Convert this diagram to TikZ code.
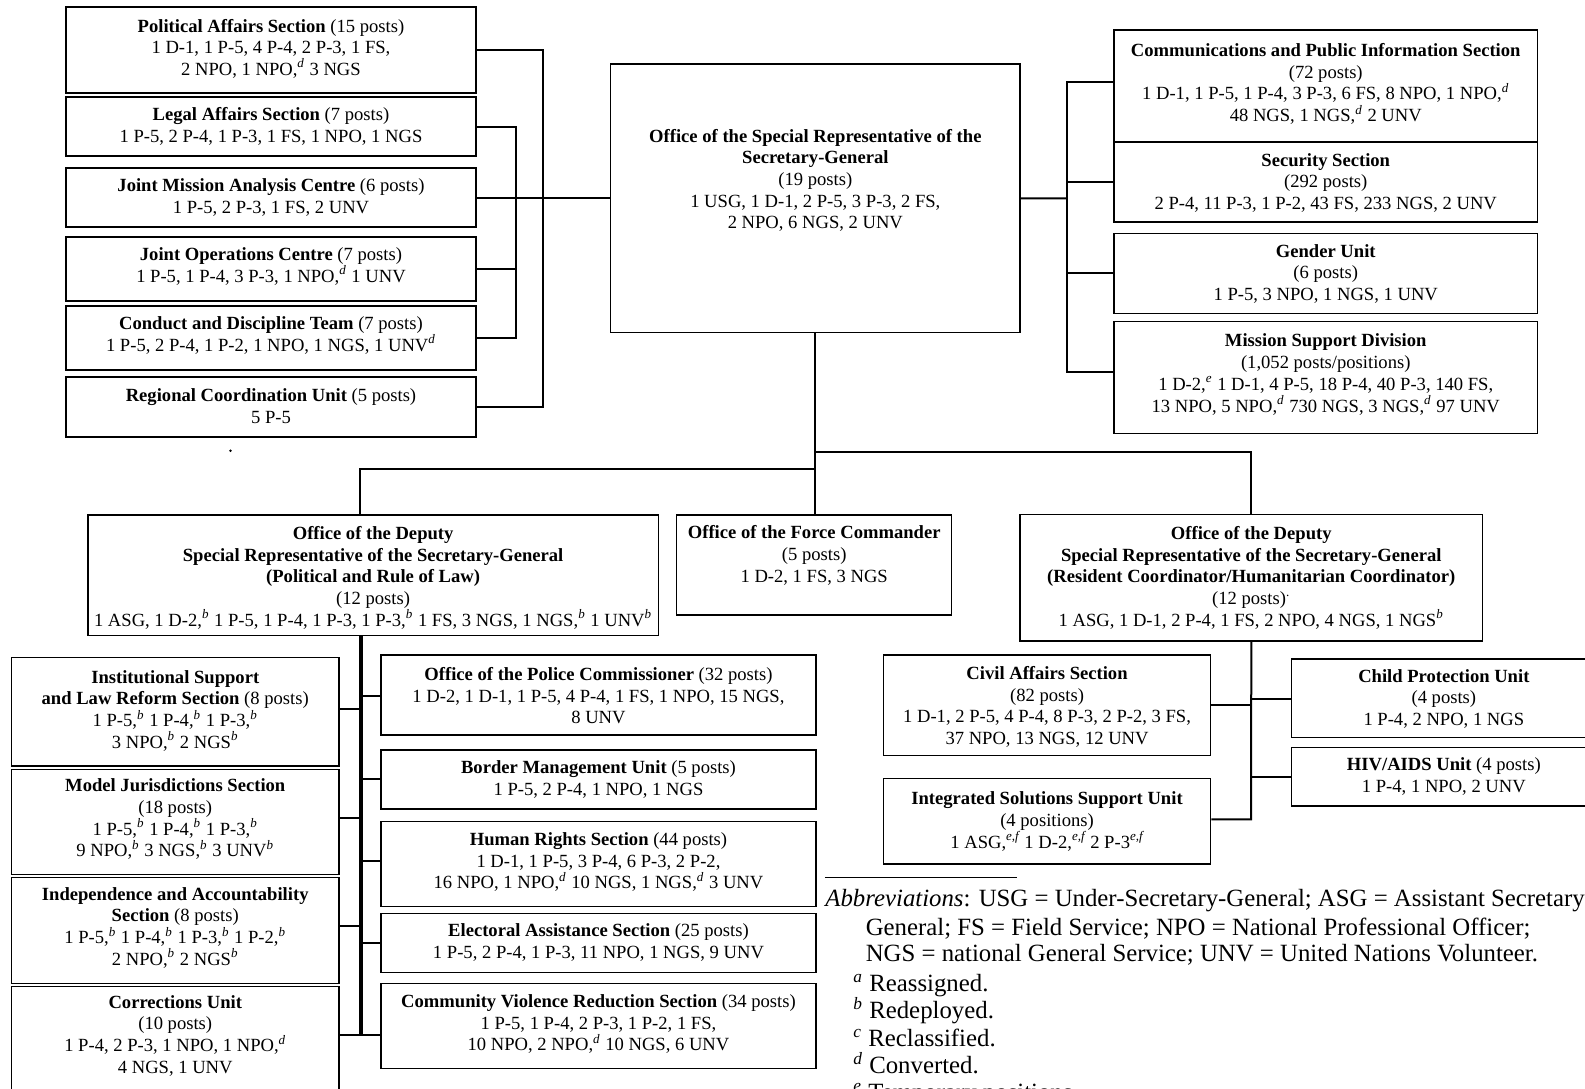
\documentclass[tikz,border=0pt]{standalone}
\usepackage{fontspec}
\setmainfont{Liberation Serif}
\usetikzlibrary{fit}
\newcommand\fn[1]{\textsuperscript{\itshape #1}}
\newcommand\orgbox[7]{%
  \node[box, fit={(#2,#3) (#4,#5)}] (#1) {};
  \node[txt] (#1-t) at ({(#2+#4)/2},#6) {#7};}
\begin{document}
\begin{tikzpicture}[x=0.5pt,y=-0.5pt,
  box/.style={draw, line width=0.75pt, inner sep=0pt},
  txt/.style={align=center, inner sep=0pt, font=\fontsize{9.3}{10.85}\selectfont},
  conn/.style={line width=1pt},
  spine/.style={line width=1.7pt},
  abbr/.style={anchor=base west, inner sep=0pt, font=\fontsize{12.4}{13.7}\selectfont}]
\useasboundingbox (0,0) rectangle (1585,1088);

% ---------- top-left column
\orgbox{pa}{66}{7}{476}{93}{48.7}{\textbf{Political Affairs Section} (15 posts)\\1 D-1, 1 P-5, 4 P-4, 2 P-3, 1 FS,\\2 NPO, 1 NPO,\fn{d} 3 NGS}
\orgbox{legal}{66}{97}{476}{156}{126.2}{\textbf{Legal Affairs Section} (7 posts)\\1 P-5, 2 P-4, 1 P-3, 1 FS, 1 NPO, 1 NGS}
\orgbox{jmac}{66}{168}{476}{227}{197.2}{\textbf{Joint Mission Analysis Centre} (6 posts)\\1 P-5, 2 P-3, 1 FS, 2 UNV}
\orgbox{joc}{66}{237}{476}{301}{266.7}{\textbf{Joint Operations Centre} (7 posts)\\1 P-5, 1 P-4, 3 P-3, 1 NPO,\fn{d} 1 UNV}
\orgbox{cdt}{66}{306}{476}{370}{335.3}{\textbf{Conduct and Discipline Team} (7 posts)\\1 P-5, 2 P-4, 1 P-2, 1 NPO, 1 NGS, 1 UNV\fn{d}}
\orgbox{rcu}{66}{377}{476}{437}{406.2}{\textbf{Regional Coordination Unit} (5 posts)\\5 P-5}
\fill (230.5,450.7) circle (1.3);

% ---------- central
\orgbox{srsg}{610.7}{64}{1020}{332.7}{180.3}{\textbf{Office of the Special Representative of the}\\\textbf{Secretary-General}\\(19 posts)\\1 USG, 1 D-1, 2 P-5, 3 P-3, 2 FS,\\2 NPO, 6 NGS, 2 UNV}

% ---------- right column
\orgbox{comms}{1114.2}{30}{1537.3}{142}{84}{\textbf{Communications and Public Information Section}\\(72 posts)\\1 D-1, 1 P-5, 1 P-4, 3 P-3, 6 FS, 8 NPO, 1 NPO,\fn{d}\\48 NGS, 1 NGS,\fn{d} 2 UNV}
\orgbox{security}{1114.2}{142}{1537.3}{222}{182.8}{\textbf{Security Section}\\(292 posts)\\2 P-4, 11 P-3, 1 P-2, 43 FS, 233 NGS, 2 UNV}
\orgbox{gender}{1114.2}{233.3}{1537.3}{313.3}{273.7}{\textbf{Gender Unit}\\(6 posts)\\1 P-5, 3 NPO, 1 NGS, 1 UNV}
\orgbox{msd}{1114.2}{321.7}{1537.3}{433.3}{374.5}{\textbf{Mission Support Division}\\(1,052 posts/positions)\\1 D-2,\fn{e} 1 D-1, 4 P-5, 18 P-4, 40 P-3, 140 FS,\\13 NPO, 5 NPO,\fn{d} 730 NGS, 3 NGS,\fn{d} 97 UNV}

% ---------- second level
\orgbox{prl}{87.9}{515}{658.3}{635.7}{577.8}{\textbf{Office of the Deputy}\\\textbf{Special Representative of the Secretary-General}\\\textbf{(Political and Rule of Law)}\\(12 posts)\\1 ASG, 1 D-2,\fn{b} 1 P-5, 1 P-4, 1 P-3, 1 P-3,\fn{b} 1 FS, 3 NGS, 1 NGS,\fn{b} 1 UNV\fn{b}}
\orgbox{fc}{676.7}{515}{951.7}{615}{555.3}{\textbf{Office of the Force Commander}\\(5 posts)\\1 D-2, 1 FS, 3 NGS}
\orgbox{rc}{1020}{514.7}{1482.5}{641}{577.8}{\textbf{Office of the Deputy}\\\textbf{Special Representative of the Secretary-General}\\\textbf{(Resident Coordinator/Humanitarian Coordinator)}\\(12 posts)\textsuperscript{.}\\1 ASG, 1 D-1, 2 P-4, 1 FS, 2 NPO, 4 NGS, 1 NGS\fn{b}}

% ---------- PRL subtree, left
\orgbox{islr}{11.5}{657.3}{339}{766}{710.8}{\textbf{Institutional Support}\\\textbf{and Law Reform Section} (8 posts)\\1 P-5,\fn{b} 1 P-4,\fn{b} 1 P-3,\fn{b}\\3 NPO,\fn{b} 2 NGS\fn{b}}
\orgbox{mjs}{11.5}{769.3}{339}{874.3}{819.2}{\textbf{Model Jurisdictions Section}\\(18 posts)\\1 P-5,\fn{b} 1 P-4,\fn{b} 1 P-3,\fn{b}\\9 NPO,\fn{b} 3 NGS,\fn{b} 3 UNV\fn{b}}
\orgbox{ia}{11.5}{877.3}{339}{983.3}{927.8}{\textbf{Independence and Accountability}\\\textbf{Section} (8 posts)\\1 P-5,\fn{b} 1 P-4,\fn{b} 1 P-3,\fn{b} 1 P-2,\fn{b}\\2 NPO,\fn{b} 2 NGS\fn{b}}
\orgbox{corr}{11.5}{986.7}{339}{1096}{1035.8}{\textbf{Corrections Unit}\\(10 posts)\\1 P-4, 2 P-3, 1 NPO, 1 NPO,\fn{d}\\4 NGS, 1 UNV}

% ---------- PRL subtree, right
\orgbox{pol}{381}{655}{816}{735}{695.7}{\textbf{Office of the Police Commissioner} (32 posts)\\1 D-2, 1 D-1, 1 P-5, 4 P-4, 1 FS, 1 NPO, 15 NGS,\\8 UNV}
\orgbox{bmu}{381}{750}{816}{809}{779.5}{\textbf{Border Management Unit} (5 posts)\\1 P-5, 2 P-4, 1 NPO, 1 NGS}
\orgbox{hrs}{381}{821.7}{816}{906.7}{862.2}{\textbf{Human Rights Section} (44 posts)\\1 D-1, 1 P-5, 3 P-4, 6 P-3, 2 P-2,\\16 NPO, 1 NPO,\fn{d} 10 NGS, 1 NGS,\fn{d} 3 UNV}
\orgbox{eas}{381}{913.3}{816}{972.7}{942.8}{\textbf{Electoral Assistance Section} (25 posts)\\1 P-5, 2 P-4, 1 P-3, 11 NPO, 1 NGS, 9 UNV}
\orgbox{cvr}{381}{983.3}{816}{1068.3}{1024.2}{\textbf{Community Violence Reduction Section} (34 posts)\\1 P-5, 1 P-4, 2 P-3, 1 P-2, 1 FS,\\10 NPO, 2 NPO,\fn{d} 10 NGS, 6 UNV}

% ---------- RC subtree
\orgbox{civil}{883.4}{655}{1210.7}{755.7}{706.8}{\textbf{Civil Affairs Section}\\(82 posts)\\1 D-1, 2 P-5, 4 P-4, 8 P-3, 2 P-2, 3 FS,\\37 NPO, 13 NGS, 12 UNV}
\orgbox{issu}{883.4}{778.3}{1210.7}{864}{821.5}{\textbf{Integrated Solutions Support Unit}\\(4 positions)\\1 ASG,\fn{e,f} 1 D-2,\fn{e,f} 2 P-3\fn{e,f}}
\orgbox{child}{1291.7}{659}{1596}{737.3}{698.7}{\textbf{Child Protection Unit}\\(4 posts)\\1 P-4, 2 NPO, 1 NGS}
\orgbox{hiv}{1291.7}{747.3}{1596}{806}{776.2}{\textbf{HIV/AIDS Unit} (4 posts)\\1 P-4, 1 NPO, 2 UNV}

% ---------- connectors: top-left
\coordinate (lo) at (543,198.3);
\coordinate (li) at (516,198.3);
\draw[conn] (jmac.east) -- (jmac.east -| srsg.west);
\draw[conn] (pa.east) -| (lo) |- (rcu.east);
\draw[conn] (legal.east) -| (li) |- (cdt.east);
\draw[conn] (joc.east) -- (joc.east -| li);

% ---------- connectors: right
\coordinate (rm) at (1067,198.3);
\coordinate (rt) at (1067,82);
\coordinate (rb) at (1067,372.3);
\draw[conn] (srsg.east) -- (rm);
\draw[conn] (rt -| comms.west) -- (rt) -- (rb) -- (rb -| msd.west);
\draw[conn] (security.west) -- (security.west -| rt);
\draw[conn] (gender.west) -- (gender.west -| rt);

% ---------- connectors: down
\coordinate (hl) at (360,469.3);
\coordinate (hr) at (1251.2,451.7);
\draw[conn] (srsg.south) -- (srsg.south |- fc.north);
\draw[conn] (srsg.south |- hl) -- (hl) -- (hl |- prl.north);
\draw[conn] (srsg.south |- hr) -- (hr) -- (hr |- rc.north);

% ---------- PRL subtree connectors
\coordinate (sp) at (361,1035);
\draw[spine] (prl.south -| sp) -- (sp);
\coordinate (tl1) at (361,709);
\coordinate (tl2) at (361,817.7);
\coordinate (tl3) at (361,926);
\draw[conn] (tl1) -- (tl1 -| islr.east);
\draw[conn] (tl2) -- (tl2 -| mjs.east);
\draw[conn] (tl3) -- (tl3 -| ia.east);
\draw[conn] (sp) -- (sp -| corr.east);
\coordinate (tr1) at (361,696);
\coordinate (tr2) at (361,779.3);
\coordinate (tr3) at (361,861);
\coordinate (tr4) at (361,942.7);
\draw[conn] (tr1) -- (tr1 -| pol.west);
\draw[conn] (tr2) -- (tr2 -| bmu.west);
\draw[conn] (tr3) -- (tr3 -| hrs.west);
\draw[conn] (tr4) -- (tr4 -| eas.west);
\draw[conn] (sp) -- (sp -| cvr.west);

% ---------- RC subtree connectors
\coordinate (rcb) at (1251.2,819.3);
\coordinate (tc) at (1251.2,699.3);
\draw[conn] (rc.south) -- (rcb) -- (rcb -| issu.east);
\draw[conn] (civil.east) -- (civil.east -| rcb);
\draw[conn] (tc) -- (tc -| child.west);
\draw[conn] (hiv.west) -- (hiv.west -| rcb);

% ---------- notes
\coordinate (sepA) at (824.9,877.3);
\coordinate (sepB) at (1016.8,877.3);
\draw[line width=0.5pt] (sepA) -- (sepB);
\node[abbr] (ab1) at (825,906) {\textit{Abbreviations}: USG = Under-Secretary-General; ASG = Assistant Secretary-};
\node[abbr] (ab2) at (865.4,935) {General; FS = Field Service; NPO = National Professional Officer;};
\node[abbr] (ab3) at (865.4,961.5) {NGS = national General Service; UNV = United Nations Volunteer.};
\node[abbr] (fa) at (853,991.5) {\fn{a} Reassigned.};
\node[abbr] (fb) at (853,1018.5) {\fn{b} Redeployed.};
\node[abbr] (fc-note) at (853,1046) {\fn{c} Reclassified.};
\node[abbr] (fd) at (853,1073) {\fn{d} Converted.};
\node[abbr] (fe) at (853,1100) {\fn{e} Temporary positions.};
\end{tikzpicture}
\end{document}
